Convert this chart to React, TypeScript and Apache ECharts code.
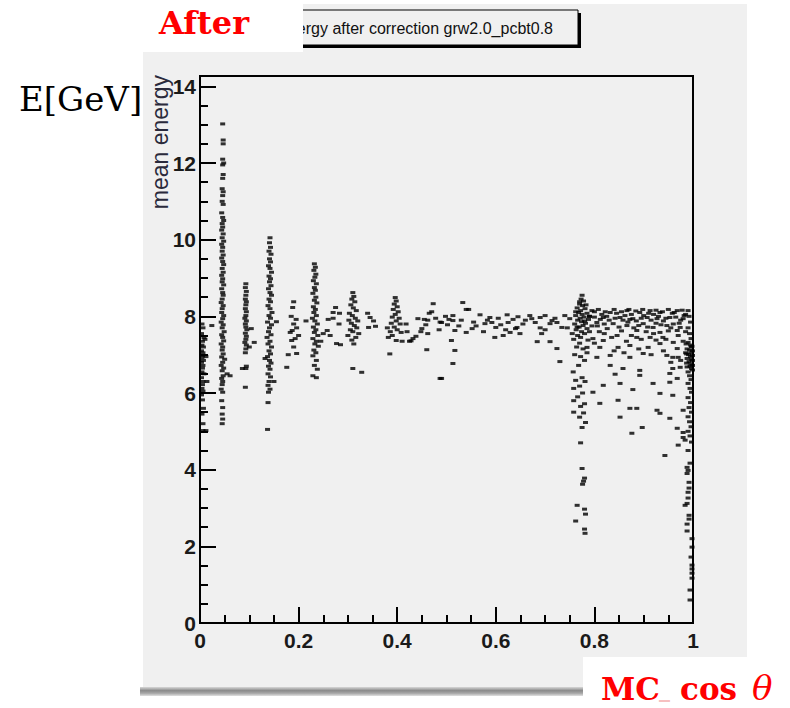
import { useEffect, useRef } from "react";
import * as echarts from "echarts";

type P = [number, number];

// axis settings
const xMin = 0;
const xMax = 1;
const xInterval = 0.2;
const yMin = 0;
const yMax = 14.27;
const yInterval = 2;

const titleText = "Mean energy after correction grw2.0_pcbt0.8";
const yAxisTitle = "mean energy";

// column at cos ~ 0
const colEdge: P[] = [
  [0.004, 7.8], [0.006, 7.7], [0.003, 7.55], [0.008, 7.45], [0.005, 7.35], [0.004, 7.25], [0.007, 7.2],
  [0.003, 7.1], [0.006, 7.05], [0.005, 6.98], [0.004, 6.92], [0.007, 6.85], [0.003, 6.8], [0.006, 6.72],
  [0.005, 6.65], [0.004, 6.55], [0.008, 6.5], [0.003, 6.4], [0.006, 6.3], [0.005, 6.22], [0.004, 6.12],
  [0.006, 6.05], [0.003, 5.95], [0.005, 5.82], [0.007, 5.6], [0.004, 5.45], [0.006, 5.2], [0.006, 5.02],
  [0.012, 5.02], [0.024, 7.76], [0.012, 6.95], [0.014, 6.3], [0.01, 7.4],
];

// column at cos ~ 0.045
const colA: P[] = [
  [0.046, 13.02], [0.047, 12.6], [0.047, 12.5], [0.046, 12.1], [0.048, 12.0], [0.046, 11.95], [0.047, 11.7],
  [0.046, 11.6], [0.045, 11.33], [0.047, 11.25], [0.046, 11.15], [0.045, 11.0], [0.047, 10.92], [0.044, 10.7],
  [0.046, 10.58], [0.048, 10.5], [0.045, 10.42], [0.046, 10.33], [0.044, 10.25], [0.047, 10.15], [0.045, 10.05],
  [0.048, 9.96], [0.044, 9.88], [0.046, 9.8], [0.045, 9.7], [0.047, 9.6], [0.044, 9.52], [0.046, 9.43],
  [0.048, 9.35], [0.045, 9.25], [0.047, 9.15], [0.044, 9.07], [0.046, 8.98], [0.045, 8.9], [0.048, 8.82],
  [0.044, 8.72], [0.046, 8.62], [0.047, 8.55], [0.045, 8.45], [0.043, 8.36], [0.047, 8.28], [0.045, 8.2],
  [0.044, 8.1], [0.048, 8.02], [0.046, 7.94], [0.043, 7.85], [0.047, 7.78], [0.045, 7.7], [0.049, 7.6],
  [0.044, 7.52], [0.046, 7.45], [0.048, 7.36], [0.043, 7.28], [0.046, 7.2], [0.045, 7.12], [0.047, 7.02],
  [0.044, 6.94], [0.05, 6.88], [0.046, 6.8], [0.043, 6.72], [0.048, 6.65], [0.045, 6.58], [0.055, 6.5],
  [0.047, 6.45], [0.044, 6.38], [0.046, 6.3], [0.045, 6.22], [0.043, 6.1], [0.046, 6.02], [0.044, 5.8],
  [0.046, 5.62], [0.045, 5.45], [0.046, 5.32], [0.045, 5.2], [0.061, 6.45],
];

// column at cos ~ 0.095
const colC: P[] = [
  [0.093, 8.85], [0.092, 8.75], [0.094, 8.65], [0.093, 8.55], [0.092, 8.45], [0.094, 8.38], [0.093, 8.3],
  [0.092, 8.2], [0.094, 8.12], [0.093, 8.02], [0.091, 7.95], [0.094, 7.88], [0.092, 7.8], [0.093, 7.72],
  [0.095, 7.65], [0.092, 7.56], [0.094, 7.48], [0.093, 7.4], [0.091, 7.32], [0.094, 7.25], [0.093, 7.15],
  [0.092, 7.05], [0.086, 6.64], [0.093, 6.64], [0.094, 6.7], [0.092, 6.15], [0.104, 7.68], [0.11, 7.32],
  [0.1, 7.2],
];

// column at cos ~ 0.14
const colD: P[] = [
  [0.142, 10.05], [0.141, 9.92], [0.143, 9.8], [0.14, 9.7], [0.144, 9.62], [0.141, 9.5], [0.143, 9.42],
  [0.139, 9.32], [0.142, 9.25], [0.145, 9.15], [0.14, 9.05], [0.143, 8.98], [0.141, 8.9], [0.144, 8.8],
  [0.139, 8.72], [0.142, 8.62], [0.145, 8.55], [0.14, 8.45], [0.143, 8.38], [0.138, 8.28], [0.142, 8.2],
  [0.146, 8.1], [0.14, 8.02], [0.143, 7.95], [0.137, 7.85], [0.145, 7.78], [0.141, 7.7], [0.139, 7.6],
  [0.144, 7.52], [0.136, 7.45], [0.142, 7.35], [0.138, 7.28], [0.145, 7.2], [0.14, 7.1], [0.143, 7.02],
  [0.137, 6.95], [0.141, 6.85], [0.144, 6.78], [0.139, 6.7], [0.142, 6.62], [0.138, 6.5], [0.143, 6.42],
  [0.14, 6.3], [0.138, 6.2], [0.142, 6.1], [0.139, 6.02], [0.138, 5.75], [0.137, 5.05], [0.155, 7.86],
  [0.132, 6.9], [0.15, 6.3],
];

// column at cos ~ 0.19
const colE: P[] = [
  [0.19, 8.38], [0.188, 8.23], [0.185, 8.0], [0.195, 7.92], [0.19, 7.8], [0.196, 7.7], [0.187, 7.63],
  [0.193, 7.42], [0.186, 7.37], [0.19, 7.2], [0.196, 7.03], [0.179, 7.0], [0.176, 6.67], [0.2, 7.5],
  [0.183, 7.58],
];

// column at cos ~ 0.23
const colF: P[] = [
  [0.232, 9.37], [0.234, 9.28], [0.231, 9.2], [0.235, 9.1], [0.233, 9.02], [0.23, 8.93], [0.236, 8.85],
  [0.232, 8.75], [0.234, 8.68], [0.229, 8.6], [0.235, 8.5], [0.232, 8.42], [0.237, 8.35], [0.23, 8.25],
  [0.234, 8.18], [0.231, 8.1], [0.236, 8.02], [0.228, 7.95], [0.233, 7.88], [0.238, 7.8], [0.23, 7.72],
  [0.235, 7.65], [0.232, 7.58], [0.239, 7.5], [0.229, 7.42], [0.236, 7.35], [0.233, 7.28], [0.24, 7.22],
  [0.231, 7.12], [0.235, 7.05], [0.229, 6.97], [0.236, 6.85], [0.232, 6.72], [0.238, 6.62], [0.229, 6.45],
  [0.236, 6.4], [0.215, 7.88], [0.25, 7.55], [0.245, 7.35],
];

// cluster around cos ~ 0.26-0.36
const colG: P[] = [
  [0.275, 8.23], [0.27, 8.1], [0.283, 8.08], [0.26, 7.92], [0.27, 7.95], [0.282, 7.8], [0.258, 7.63],
  [0.264, 7.5], [0.277, 7.29], [0.285, 7.26], [0.31, 8.62], [0.312, 8.52], [0.308, 8.45], [0.314, 8.38],
  [0.306, 8.3], [0.311, 8.22], [0.317, 8.15], [0.303, 8.08], [0.309, 8.02], [0.315, 7.95], [0.302, 7.9],
  [0.32, 7.88], [0.307, 7.82], [0.313, 7.76], [0.318, 7.7], [0.305, 7.65], [0.31, 7.6], [0.322, 7.55],
  [0.3, 7.5], [0.316, 7.45], [0.308, 7.38], [0.312, 7.28], [0.31, 6.64], [0.328, 6.54], [0.34, 8.08],
  [0.345, 7.97], [0.352, 7.88], [0.342, 7.71], [0.356, 7.74],
];

// cluster around cos ~ 0.40
const colH: P[] = [
  [0.396, 8.49], [0.398, 8.4], [0.394, 8.32], [0.4, 8.25], [0.392, 8.18], [0.402, 8.12], [0.396, 8.05],
  [0.39, 7.98], [0.404, 7.95], [0.398, 7.88], [0.388, 7.82], [0.406, 7.8], [0.394, 7.72], [0.4, 7.65],
  [0.386, 7.6], [0.408, 7.58], [0.39, 7.5], [0.382, 7.45], [0.398, 7.37], [0.41, 7.35], [0.385, 7.02],
  [0.418, 7.8], [0.42, 7.6], [0.425, 7.35], [0.38, 7.7],
];

// cluster around cos ~ 0.43-0.49
const colI: P[] = [
  [0.473, 8.33], [0.47, 8.12], [0.465, 8.08], [0.442, 7.94], [0.455, 7.92], [0.462, 7.9], [0.487, 7.85],
  [0.458, 7.78], [0.45, 7.68], [0.485, 7.65], [0.462, 7.55], [0.438, 7.48], [0.432, 7.42], [0.428, 7.36],
  [0.46, 7.13], [0.487, 6.38], [0.478, 7.95], [0.448, 7.6],
];

// band between cos ~ 0.49 and 0.76
const colJ: P[] = [
  [0.533, 8.36], [0.54, 8.18], [0.545, 8.18], [0.513, 8.02], [0.513, 7.89], [0.505, 7.92], [0.49, 7.84],
  [0.517, 7.63], [0.51, 7.37], [0.517, 7.11], [0.513, 6.77], [0.49, 6.38], [0.54, 7.58], [0.552, 7.68],
  [0.568, 8.04], [0.588, 7.97], [0.592, 7.84], [0.6, 7.71], [0.578, 7.81], [0.598, 7.45], [0.623, 8.04],
  [0.635, 7.92], [0.625, 7.84], [0.645, 7.99], [0.643, 7.71], [0.629, 7.58], [0.649, 7.55], [0.64, 7.68],
  [0.669, 8.02], [0.673, 7.94], [0.69, 7.97], [0.68, 7.84], [0.7, 8.02], [0.714, 7.89], [0.724, 7.84],
  [0.71, 7.81], [0.693, 7.55], [0.684, 7.34], [0.71, 7.34], [0.724, 7.16], [0.73, 6.82], [0.734, 7.71],
  [0.74, 8.02], [0.75, 7.94], [0.583, 7.9], [0.61, 7.78], [0.605, 7.95], [0.655, 7.8], [0.66, 7.9],
  [0.555, 7.85], [0.56, 7.75], [0.498, 8.0], [0.502, 7.78], [0.53, 7.9], [0.525, 7.75], [0.575, 7.6],
  [0.62, 7.65], [0.615, 7.5], [0.69, 7.7], [0.7, 7.65], [0.72, 7.95], [0.745, 7.7], [0.755, 7.55],
];

// spike at cos ~ 0.77
const colK: P[] = [
  [0.775, 8.55], [0.773, 8.45], [0.778, 8.4], [0.77, 8.32], [0.776, 8.28], [0.765, 8.22], [0.781, 8.2],
  [0.772, 8.15], [0.768, 8.1], [0.785, 8.08], [0.775, 8.05], [0.762, 8.02], [0.779, 7.98], [0.771, 7.95],
  [0.788, 7.92], [0.766, 7.9], [0.774, 7.86], [0.782, 7.82], [0.76, 7.8], [0.777, 7.76], [0.769, 7.72],
  [0.785, 7.68], [0.763, 7.65], [0.774, 7.6], [0.78, 7.55], [0.766, 7.5], [0.772, 7.45], [0.758, 7.4],
  [0.787, 7.38], [0.764, 7.2], [0.777, 7.15], [0.76, 7.0], [0.772, 6.95], [0.78, 6.85], [0.768, 6.72],
  [0.757, 6.55], [0.775, 6.4], [0.762, 6.33], [0.781, 6.3], [0.77, 6.18], [0.758, 6.12], [0.776, 6.0],
  [0.766, 5.9], [0.758, 5.8], [0.78, 5.72], [0.772, 5.65], [0.758, 5.5], [0.778, 5.48], [0.77, 5.37],
  [0.782, 5.23], [0.775, 5.1], [0.772, 4.7], [0.775, 4.03], [0.78, 3.78], [0.778, 3.7], [0.776, 3.62],
  [0.765, 3.07], [0.78, 2.97], [0.782, 2.84], [0.762, 2.66], [0.78, 2.45], [0.781, 2.34],
  [0.77, 8.38], [0.783, 8.3], [0.762, 8.12], [0.79, 8.0], [0.78, 7.88], [0.765, 7.72], [0.79, 7.6],
  [0.77, 7.3], [0.785, 7.05],
];

// region cos ~ 0.79-0.98
const colL: P[] = [
  [0.832, 8.1], [0.866, 8.15], [0.892, 8.1], [0.913, 8.15], [0.933, 8.1], [0.968, 8.15], [0.818, 7.97],
  [0.852, 7.97], [0.878, 7.94], [0.907, 7.97], [0.927, 7.94], [0.953, 7.97], [0.98, 7.94], [0.805, 7.84],
  [0.838, 7.81], [0.866, 7.76], [0.899, 7.81], [0.919, 7.71], [0.947, 7.76], [0.974, 7.71], [0.826, 7.68],
  [0.886, 7.63], [0.933, 7.58], [0.968, 7.63], [0.846, 7.5], [0.886, 7.45], [0.913, 7.45], [0.939, 7.45],
  [0.97, 7.5], [0.797, 7.42], [0.818, 7.37], [0.785, 7.19], [0.811, 7.19], [0.848, 7.19], [0.872, 7.24],
  [0.909, 7.19], [0.933, 7.29], [0.968, 7.16], [0.805, 6.93], [0.832, 6.98], [0.872, 6.93], [0.899, 7.03],
  [0.947, 6.98], [0.959, 6.93], [0.97, 6.93], [0.832, 6.72], [0.858, 6.64], [0.892, 6.59], [0.959, 6.64],
  [0.974, 6.67], [0.842, 6.49], [0.892, 6.46], [0.953, 6.51], [0.968, 6.38], [0.919, 6.25], [0.953, 6.28],
  [0.852, 6.25], [0.818, 6.2], [0.933, 5.99], [0.878, 6.09], [0.797, 6.02], [0.959, 5.94], [0.811, 5.73],
  [0.848, 5.81], [0.872, 5.6], [0.886, 5.6], [0.927, 5.55], [0.933, 5.47], [0.98, 5.55], [0.852, 5.37],
  [0.953, 5.34], [0.897, 5.1], [0.968, 5.08], [0.876, 4.95], [0.98, 4.97], [0.98, 4.84], [0.984, 4.77],
  [0.97, 4.64], [0.943, 4.37], [0.8, 8.12], [0.815, 8.05], [0.845, 8.08], [0.858, 7.9], [0.875, 8.05],
  [0.885, 7.88], [0.9, 8.02], [0.92, 8.05], [0.94, 7.88], [0.958, 8.08], [0.975, 7.9], [0.83, 7.9],
  [0.89, 7.76], [0.925, 7.82], [0.96, 7.8], [0.81, 7.6], [0.855, 7.62], [0.905, 7.6], [0.95, 7.62],
  [0.865, 7.35], [0.925, 7.38], [0.96, 7.32], [0.79, 8.0], [0.795, 7.75],
];

// dense top band cos ~ 0.79-0.99
const colLBand: P[] = [
  [0.795, 8.15], [0.808, 8.18], [0.822, 8.12], [0.84, 8.18], [0.855, 8.12], [0.87, 8.18], [0.884, 8.14],
  [0.898, 8.18], [0.91, 8.08], [0.925, 8.16], [0.938, 8.12], [0.95, 8.18], [0.962, 8.1], [0.978, 8.16],
  [0.985, 8.05], [0.8, 7.98], [0.812, 7.92], [0.825, 8.0], [0.842, 7.95], [0.862, 8.02], [0.872, 7.92],
  [0.895, 7.95], [0.915, 7.9], [0.93, 8.0], [0.945, 7.95], [0.965, 7.98], [0.982, 8.02], [0.806, 7.75],
  [0.82, 7.8], [0.85, 7.72], [0.868, 7.85], [0.88, 7.7], [0.908, 7.72], [0.935, 7.78], [0.955, 7.7],
  [0.972, 7.82], [0.985, 7.6], [0.82, 7.55], [0.835, 7.45], [0.875, 7.5], [0.895, 7.4], [0.92, 7.55],
  [0.945, 7.4], [0.98, 7.35], [0.8, 7.3], [0.84, 7.1], [0.86, 7.05], [0.89, 7.15], [0.915, 7.0],
  [0.94, 7.1], [0.955, 6.8], [0.975, 6.85], [0.985, 7.05],
];

// column at cos ~ 0.99
const colM: P[] = [
  [0.99, 8.15], [0.992, 8.0], [0.995, 7.85], [0.99, 7.7], [0.993, 7.55], [0.996, 7.42], [0.99, 7.32],
  [0.995, 7.25], [0.997, 7.2], [0.993, 7.12], [0.996, 7.05], [0.991, 7.0], [0.995, 6.95], [0.997, 6.88],
  [0.992, 6.82], [0.996, 6.76], [0.994, 6.7], [0.997, 6.64], [0.99, 6.55], [0.993, 6.45], [0.996, 6.35],
  [0.99, 6.25], [0.994, 6.12], [0.997, 6.02], [0.99, 5.88], [0.995, 5.75], [0.992, 5.62], [0.997, 5.5],
  [0.99, 5.38], [0.993, 5.25], [0.996, 5.12], [0.99, 5.0], [0.994, 4.88], [0.997, 4.72], [0.99, 4.5],
  [0.994, 4.17], [0.988, 4.06], [0.99, 3.98], [0.988, 3.9], [0.992, 3.67], [0.992, 3.52], [0.99, 3.41],
  [0.99, 3.26], [0.988, 3.12], [0.984, 3.07], [0.992, 2.81], [0.992, 2.71], [0.988, 2.58], [0.988, 2.4],
  [0.998, 2.2], [0.998, 1.98], [0.996, 1.72], [0.998, 1.51], [0.998, 1.41], [0.998, 1.3], [0.998, 1.17],
  [0.994, 0.86], [0.994, 0.6], [0.986, 7.28], [0.998, 7.22], [0.988, 7.15], [0.999, 7.1], [0.987, 7.02],
  [0.999, 6.98], [0.988, 6.9], [0.999, 6.85], [0.987, 6.78], [0.999, 6.72], [0.988, 6.68], [0.999, 6.6],
];

const allPoints: P[] = [
  ...colEdge, ...colA, ...colC, ...colD, ...colE, ...colF, ...colG, ...colH, ...colI, ...colJ, ...colK,
  ...colL, ...colLBand, ...colM,
];

const labelFont = "'Liberation Sans', Arial, sans-serif";
const serifFont = "'DejaVu Serif', serif";

export default function App() {
  const ref = useRef<HTMLDivElement>(null);
  useEffect(() => {
    const chart = echarts.init(ref.current!, null, { renderer: "svg" });
    chart.setOption({
      animation: false,
      backgroundColor: "#ffffff",
      grid: {
        left: 200,
        top: 76,
        width: 493,
        height: 547,
        show: true,
        borderColor: "#000000",
        borderWidth: 2,
        backgroundColor: "transparent",
        z: 2,
        outerBoundsMode: "none",
        containLabel: false,
      },
      xAxis: {
        type: "value",
        min: xMin,
        max: xMax,
        interval: xInterval,
        z: 3,
        axisLine: { show: true, onZero: false, lineStyle: { color: "#000", width: 2 } },
        axisTick: { show: true, inside: true, length: 16, lineStyle: { color: "#000", width: 2 } },
        minorTick: { show: true, splitNumber: 4, length: 8, lineStyle: { color: "#000", width: 2 } },
        splitLine: { show: false },
        minorSplitLine: { show: false },
        axisLabel: { margin: 7, fontFamily: labelFont, fontWeight: "bold", fontSize: 21, color: "#1a1a1a" },
      },
      yAxis: {
        type: "value",
        min: yMin,
        max: yMax,
        interval: yInterval,
        z: 3,
        axisLine: { show: true, onZero: false, lineStyle: { color: "#000", width: 2 } },
        axisTick: { show: true, inside: true, length: 16, lineStyle: { color: "#000", width: 2 } },
        minorTick: { show: true, splitNumber: 4, length: 8, lineStyle: { color: "#000", width: 2 } },
        splitLine: { show: false },
        minorSplitLine: { show: false },
        axisLabel: {
          margin: 4,
          showMaxLabel: false,
          fontFamily: labelFont,
          fontWeight: "bold",
          fontSize: 21,
          color: "#1a1a1a",
        },
      },
      series: [
        {
          type: "scatter",
          data: allPoints,
          symbol: "rect",
          symbolSize: [5, 3],
          itemStyle: { color: "#000000" },
          z: 4,
          silent: true,
        },
      ],
      graphic: [
        // gray canvas panel
        { type: "rect", z: -5, shape: { x: 143, y: 4, width: 604, height: 684 }, style: { fill: "#f0f0f0" } },
        // bottom bar
        {
          type: "rect",
          z: -4,
          shape: { x: 140, y: 687, width: 450, height: 9 },
          style: {
            fill: new echarts.graphic.LinearGradient(0, 0, 0, 1, [
              { offset: 0, color: "#d8d8d8" },
              { offset: 0.4, color: "#8a8a8a" },
              { offset: 0.7, color: "#a8a8a8" },
              { offset: 1, color: "#e0e0e0" },
            ]),
          },
        },
        // title box shadow + box + text
        { type: "rect", z: 5, shape: { x: 224, y: 13, width: 357, height: 35 }, style: { fill: "#000000" } },
        {
          type: "rect",
          z: 6,
          shape: { x: 221, y: 10, width: 357, height: 35 },
          style: { fill: "#f0f0f0", stroke: "#000000", lineWidth: 1 },
        },
        {
          type: "text",
          z: 7,
          x: 553,
          y: 28,
          style: {
            text: titleText,
            align: "right",
            verticalAlign: "middle",
            fontFamily: labelFont,
            fontSize: 16,
            fill: "#111111",
          },
        },
        // "After" white label box
        { type: "rect", z: 8, shape: { x: 140, y: 0, width: 163, height: 52 }, style: { fill: "#ffffff" } },
        {
          type: "text",
          z: 9,
          x: 159,
          y: 23,
          style: {
            text: "After",
            align: "left",
            verticalAlign: "middle",
            fontFamily: serifFont,
            fontWeight: "bold",
            fontSize: 32,
            fill: "#ff0000",
          },
        },
        // E[GeV]
        {
          type: "text",
          z: 9,
          x: 19,
          y: 99,
          style: {
            text: "E[GeV]",
            align: "left",
            verticalAlign: "middle",
            fontFamily: serifFont,
            fontSize: 34,
            fill: "#000000",
          },
        },
        // y axis title
        {
          type: "text",
          z: 9,
          x: 160,
          y: 75,
          rotation: Math.PI / 2,
          style: {
            text: yAxisTitle,
            align: "right",
            verticalAlign: "middle",
            fontFamily: labelFont,
            fontSize: 23,
            fill: "#2a2a3c",
          },
        },
        // MC cos theta label
        { type: "rect", z: 8, shape: { x: 583, y: 657, width: 207, height: 51 }, style: { fill: "#ffffff" } },
        {
          type: "text",
          z: 9,
          x: 601,
          y: 689,
          style: {
            text: "MC",
            align: "left",
            verticalAlign: "middle",
            fontFamily: serifFont,
            fontWeight: "bold",
            fontSize: 31,
            fill: "#ff0000",
          },
        },
        {
          type: "text",
          z: 9,
          x: 659,
          y: 689,
          style: {
            text: "_",
            align: "left",
            verticalAlign: "middle",
            fontFamily: serifFont,
            fontWeight: "bold",
            fontSize: 22,
            fill: "#f6c0c0",
          },
        },
        {
          type: "text",
          z: 9,
          x: 680,
          y: 689,
          style: {
            text: "cos",
            align: "left",
            verticalAlign: "middle",
            fontFamily: serifFont,
            fontWeight: "bold",
            fontSize: 31,
            fill: "#ff0000",
          },
        },
        {
          type: "text",
          z: 9,
          x: 752,
          y: 688,
          style: {
            text: "θ",
            align: "left",
            verticalAlign: "middle",
            fontFamily: serifFont,
            fontStyle: "italic",
            fontSize: 34,
            fill: "#ff0000",
          },
        },
      ],
    });
    return () => chart.dispose();
  }, []);
  return (
    <div
      ref={ref}
      style={{ position: "absolute", left: 0, top: 0, width: 790, height: 708 }}
    />
  );
}
